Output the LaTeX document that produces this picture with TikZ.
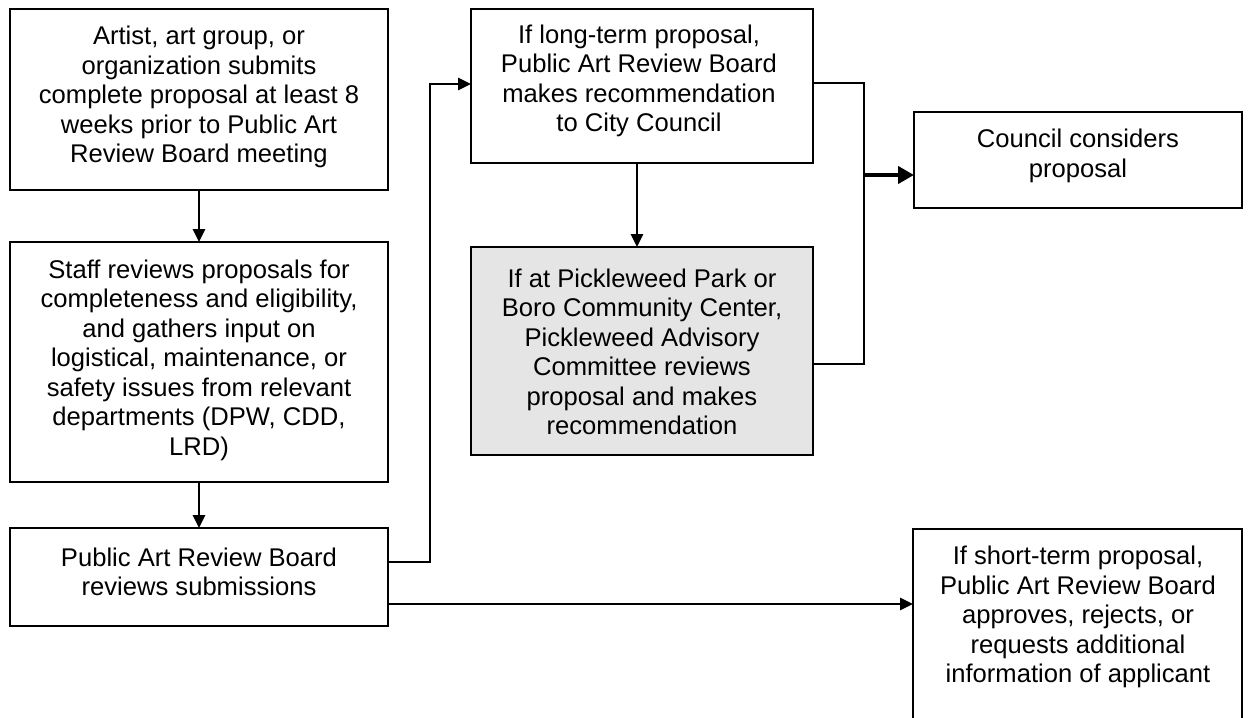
\documentclass[tikz,border=0pt]{standalone}
\usepackage{fontspec}
\setmainfont{Liberation Sans}
\usetikzlibrary{arrows.meta,calc}
\begin{document}
\begin{tikzpicture}[x=1pt,y=-1pt,
  box/.style={draw=black,line width=2.8pt,fill=white,inner sep=0pt,outer sep=0pt},
  graybox/.style={box,fill=black!10},
  txt/.style={inner sep=0pt,align=center,font=\fontsize{25.6}{29.5}\selectfont},
  conn/.style={line width=2.6pt},
  arr/.style={conn,-{Triangle[length=13pt,width=12pt]}},
  bigarr/.style={line width=4.6pt,-{Triangle[length=16pt,width=17pt]}}]
\useasboundingbox (0,0) rectangle (1252,717);
\clip (0,0) rectangle (1252,717);
% boxes
\node[box,minimum width=378pt,minimum height=181pt] (b1) at (199,99.5) {};
\node[box,minimum width=378pt,minimum height=240pt] (b2) at (199,362) {};
\node[box,minimum width=378pt,minimum height=98pt] (b3) at (199,577) {};
\node[box,minimum width=342pt,minimum height=154pt] (b4) at (642,86) {};
\node[graybox,minimum width=342pt,minimum height=208pt] (b5) at (642,351) {};
\node[box,minimum width=328pt,minimum height=96pt] (b6) at (1078,160) {};
\node[box,minimum width=329pt,minimum height=231pt] (b7) at (1077.5,644.5) {};
% texts
\node[txt] (t1) at (199,97) {Artist, art group, or\\organization submits\\complete proposal at least 8\\weeks prior to Public Art\\Review Board meeting};
\node[txt] (t2) at (199,360) {Staff reviews proposals for\\completeness and eligibility,\\and gathers input on\\logistical, maintenance, or\\safety issues from relevant\\departments (DPW, CDD,\\LRD)};
\node[txt] (t3) at (199,572) {Public Art Review Board\\reviews submissions};
\node[txt] (t4) at (639,81) {If long-term proposal,\\Public Art Review Board\\makes recommendation\\to City Council};
\node[txt] (t5) at (642,352) {If at Pickleweed Park or\\Boro Community Center,\\Pickleweed Advisory\\Committee reviews\\proposal and makes\\recommendation};
\node[txt] (t6) at (1078,156) {Council considers\\proposal};
\node[txt] (t7) at (1078,617) {If short-term proposal,\\Public Art Review Board\\approves, rejects, or\\requests additional\\information of applicant};
% connectors
\draw[arr] (b1.south) -- (b2.north);
\draw[arr] (b2.south) -- (b3.north);
\draw[arr] ([xshift=-5pt]b4.south) -- ([xshift=-5pt]b5.north);
\coordinate (j1) at ($(b4.west)+(-41,-2)$);
\draw[arr] ([yshift=15pt]b3.east) -| (j1) -- (j1 -| b4.west);
\coordinate (s2) at ($(b3.east)+(0,27)$);
\draw[arr] (s2) -- (s2 -| b7.west);
\coordinate (jx) at (864,175);
\draw[conn] ([yshift=3pt]b4.east) -| (jx) |- ([yshift=-13pt]b5.east);
\draw[bigarr] (jx) -- (jx -| b6.west);
\end{tikzpicture}
\end{document}
